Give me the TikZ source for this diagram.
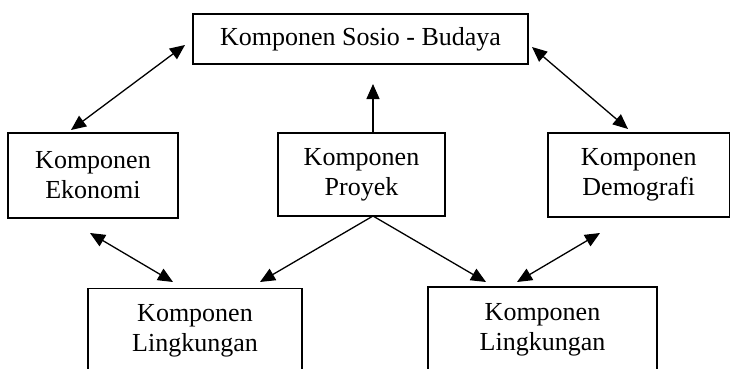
\documentclass[tikz,border=0pt]{standalone}
\usepackage{fontspec}
\setmainfont{Liberation Serif}
\usetikzlibrary{arrows.meta,calc}
\tikzset{
	komp/.style={draw, line width=1.5pt, inner sep=0pt, align=center, font=\fontsize{26}{30}\selectfont},
	panah/.style={line width=1.3pt, -{Triangle[length=15pt,width=13pt]}},
	duapanah/.style={line width=1.3pt, {Triangle[length=15pt,width=13pt]}-{Triangle[length=15pt,width=13pt]}}
}

\begin{document}
\begin{tikzpicture}[x=1pt,y=-1pt]
	\useasboundingbox (0,0) rectangle (731,369);
	\clip (0,0) rectangle (731,369);
%
	%kotak komponen
	\node[komp, minimum width=335pt, minimum height=50pt] (sosio) at (360.5,39) {Komponen Sosio - Budaya};
	\node[komp, minimum width=170pt, minimum height=85pt] (ekonomi) at (93,175.5) {Komponen\\Ekonomi};
	\node[komp, minimum width=167pt, minimum height=83pt] (proyek) at (361.5,174.5) {Komponen\\Proyek};
	\node[komp, minimum width=181.5pt, minimum height=84pt] (demografi) at (638.75,175) {Komponen\\Demografi};
	\node[komp, minimum width=214pt, minimum height=85pt] (lingkA) at (195,331) {Komponen\\Lingkungan};
	\node[komp, minimum width=229pt, minimum height=85pt] (lingkB) at (542.5,329.5) {Komponen\\Lingkungan};
%
	%ujung panah
	\coordinate (s1) at (185,45);
	\coordinate (s2) at (532,47);
	\coordinate (s3) at (373,84);
	\coordinate (e1) at (71,130);
	\coordinate (e2) at (90,233);
	\coordinate (d1) at (628,129);
	\coordinate (d2) at (600,233);
	\coordinate (p1) at (373,133);
	\coordinate (p2) at (373,216);
	\coordinate (l1) at (173,282);
	\coordinate (l2) at (260,282);
	\coordinate (l3) at (486,282);
	\coordinate (l4) at (517,282);
%
	\draw[duapanah] (e1) -- (s1);
	\draw[duapanah] (d1) -- (s2);
	\draw[panah] (p1) -- (s3);
	\draw[duapanah] (e2) -- (l1);
	\draw[panah] (p2) -- (l2);
	\draw[panah] (p2) -- (l3);
	\draw[duapanah] (d2) -- (l4);
\end{tikzpicture}
\end{document}
